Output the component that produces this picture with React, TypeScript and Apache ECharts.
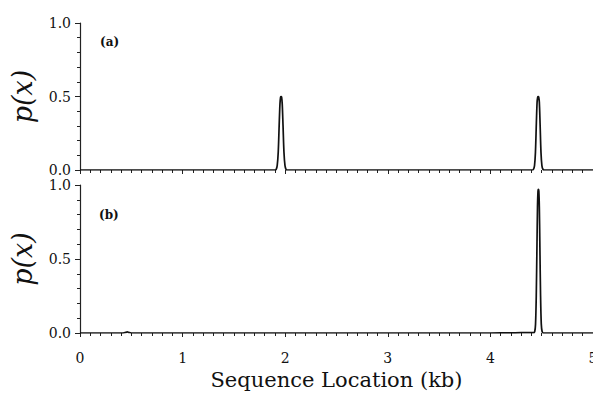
import React, { useEffect, useRef } from "react";
import * as echarts from "echarts";

// Panel (a): posterior p(x) along the sequence (kb)
const seriesA: [number, number][] = [
  [0, 0], [0.5, 0], [1.0, 0], [1.5, 0], [1.9, 0],
  [1.912, 0.005], [1.922, 0.03], [1.932, 0.12], [1.941, 0.3], [1.949, 0.45],
  [1.955, 0.495], [1.96, 0.5], [1.965, 0.495], [1.971, 0.45], [1.979, 0.3],
  [1.988, 0.12], [1.998, 0.03], [2.008, 0.005], [2.02, 0], [3.0, 0], [4.0, 0], [4.41, 0],
  [4.42, 0.005], [4.43, 0.03], [4.439, 0.12], [4.448, 0.32], [4.455, 0.46],
  [4.461, 0.495], [4.466, 0.5], [4.471, 0.495], [4.477, 0.46], [4.484, 0.32],
  [4.493, 0.12], [4.502, 0.03], [4.512, 0.005], [4.525, 0], [5, 0],
];

// Panel (b)
const seriesB: [number, number][] = [
  [0, 0], [0.42, 0], [0.445, 0.004], [0.46, 0.008], [0.475, 0.004], [0.5, 0],
  [1.0, 0], [2.0, 0], [3.0, 0], [4.0, 0], [4.2, 0.001], [4.3, 0.002], [4.42, 0.002],
  [4.432, 0.01], [4.44, 0.06], [4.447, 0.25], [4.454, 0.6], [4.459, 0.85],
  [4.464, 0.96], [4.468, 0.97], [4.472, 0.96], [4.477, 0.85], [4.482, 0.6],
  [4.489, 0.25], [4.496, 0.06], [4.504, 0.01], [4.516, 0], [5, 0],
];

const xTicks = [0, 1, 2, 3, 4, 5];
const yTicks = [0, 0.5, 1.0];
const panelLabels = ["(a)", "(b)"];
const yName = "p(x)";
const xName = "Sequence Location (kb)";

const SERIF = "'DejaVu Serif', 'Liberation Serif', serif";

export default function App() {
  const ref = useRef<HTMLDivElement>(null);
  useEffect(() => {
    if (!ref.current) return;
    const chart = echarts.init(ref.current, null, { renderer: "svg" });
    const grids = [
      { left: 80, top: 23, width: 513, height: 147, outerBoundsMode: "none", containLabel: false },
      { left: 80, top: 185, width: 513, height: 148, outerBoundsMode: "none", containLabel: false },
    ];
    const xAxis = grids.map((_, i) => ({
      type: "value" as const,
      gridIndex: i,
      min: xTicks[0],
      max: xTicks[xTicks.length - 1],
      interval: 1,
      offset: 4,
      axisLine: { show: false },
      axisTick: { show: true, inside: false, length: 4, lineStyle: { color: "#222", width: 1 } },
      minorTick: { show: true, splitNumber: 10, length: 3, lineStyle: { color: "#222", width: 1 } },
      splitLine: { show: false },
      axisLabel: {
        show: i === 1,
        fontFamily: SERIF,
        fontSize: 14,
        lineHeight: 13,
        color: "#111",
        margin: 14,
        formatter: (v: number) => String(v),
      },
      name: i === 1 ? xName : "",
      nameLocation: "middle" as const,
      nameGap: 32,
      nameTextStyle: { fontFamily: SERIF, fontSize: 21, lineHeight: 21, color: "#111" },
    }));
    const yAxis = grids.map((_, i) => ({
      type: "value" as const,
      gridIndex: i,
      min: yTicks[0],
      max: yTicks[yTicks.length - 1],
      interval: 0.5,
      axisLine: { show: true, lineStyle: { color: "#222", width: 1.2 } },
      axisTick: { show: true, inside: false, length: 5, lineStyle: { color: "#222" } },
      minorTick: { show: true, splitNumber: 5, length: 3, lineStyle: { color: "#222" } },
      splitLine: { show: false },
      axisLabel: {
        fontFamily: SERIF,
        fontSize: 14,
        lineHeight: 10,
        color: "#111",
        margin: 9,
        formatter: (v: number) => v.toFixed(1),
      },
      name: yName,
      nameLocation: "middle" as const,
      nameGap: 44,
      nameTextStyle: { fontFamily: SERIF, fontSize: 27, fontStyle: "italic", color: "#111" },
    }));
    chart.setOption({
      animation: false,
      backgroundColor: "#fff",
      grid: grids,
      xAxis,
      yAxis,
      graphic: [
        { type: "text", left: 100, top: 36, style: { text: panelLabels[0], font: `bold 12px ${SERIF}`, fill: "#111" } },
        { type: "text", left: 99, top: 209, style: { text: panelLabels[1], font: `bold 12px ${SERIF}`, fill: "#111" } },
      ],
      series: [
        {
          type: "line", xAxisIndex: 0, yAxisIndex: 0, data: seriesA, showSymbol: false, smooth: 0.3,
          lineStyle: { color: "#111", width: 1.7 },
        },
        {
          type: "line", xAxisIndex: 1, yAxisIndex: 1, data: seriesB, showSymbol: false, smooth: 0.3,
          lineStyle: { color: "#111", width: 1.7 },
        },
      ],
    });
    return () => chart.dispose();
  }, []);
  return <div ref={ref} style={{ width: 593, height: 393, position: "absolute", left: 0, top: 0 }} />;
}
